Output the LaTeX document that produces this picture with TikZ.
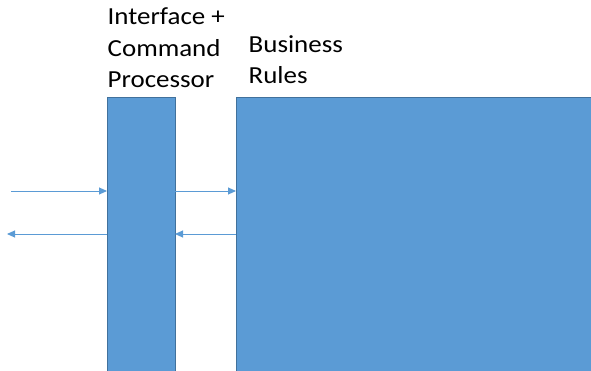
\documentclass[tikz,border=0pt]{standalone}
\usepackage{fontspec}
\setmainfont{Carlito}[FakeStretch=1.1]
\usetikzlibrary{arrows.meta,positioning}
\definecolor{boxfill}{HTML}{5B9BD5}
\definecolor{boxline}{HTML}{41719C}
\tikzstyle{layer}=[draw=boxline,fill=boxfill,line width=0.8pt,inner sep=0pt,outer sep=0pt,anchor=north west]
\tikzstyle{caption}=[anchor=base west,inner sep=0pt,font=\fontsize{24.5}{31}\selectfont]
\tikzstyle{flow}=[draw=boxfill,line width=0.9pt,-{Triangle[length=8pt,width=7pt]}]

\begin{document}
\begin{tikzpicture}[x=1pt,y=-1pt]
            \useasboundingbox (0,0) rectangle (591,371);
            \clip (0,0) rectangle (591,371);
            \node[layer,minimum width=68pt,minimum height=290pt] (cmd) at (107,97) {};
            \node[layer,minimum width=370pt,minimum height=290pt] (rules) at (236,97) {};
            \node[caption] (cmdA) at (107.5,25) {Interface +};
            \node[caption] (cmdB) at (107.5,57) {Command};
            \node[caption] (cmdC) at (107.5,88) {Processor};
            \node[caption] (rulesA) at (248.5,53) {Business};
            \node[caption] (rulesB) at (248.5,84) {Rules};
            \coordinate (inside) at (11,191);
            \coordinate (outside) at (7,234);
            \draw[flow] (inside) -- (cmd.west |- inside);
            \draw[flow] (cmd.east |- inside) -- (rules.west |- inside);
            \draw[flow] (rules.west |- outside) -- (cmd.east |- outside);
            \draw[flow] (cmd.west |- outside) -- (outside);
\end{tikzpicture}
\end{document}
